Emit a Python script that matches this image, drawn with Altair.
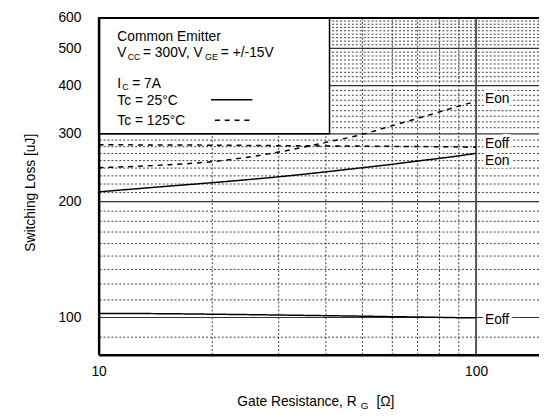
import altair as alt
import pandas as pd

FONT = "Liberation Sans, Arial, Helvetica, sans-serif"

# ---- data ----
R_G = [10, 15, 20, 30, 40, 50, 60, 70, 80, 90, 100]
eon_25 = [212, 219, 224, 232, 239, 245, 250, 255, 259, 263, 267]
eoff_25 = [102.5, 102.3, 102.0, 101.5, 101.1, 100.8, 100.5, 100.3, 100.1, 99.9, 99.8]
eon_125 = [245, 249, 254, 269, 285, 299, 315, 329, 342, 354, 364]
eoff_125 = [281, 280.6, 280.3, 279.5, 279.0, 278.7, 278.3, 278.0, 277.7, 277.4, 277.0]

series_names = ["Eon 25", "Eoff 25", "Eon 125", "Eoff 125"]
series_temps = ["25", "25", "125", "125"]

curve_labels = ["Eon", "Eoff", "Eon", "Eoff"]
curve_label_y = [370, 283, 255, 98.4]

x_ticks = [10, 100]
y_ticks = [100, 200, 300, 400, 500, 600]
x_grid_minor = [20, 30, 40, 50, 60, 70, 80, 90]
x_grid_major = [100]
y_grid_major = [100, 200, 300, 400, 500]
y_grid_minor = [88.9] + [round(b + k * 100 / 9, 1) for b in (100, 200, 300, 400, 500) for k in range(1, 9)]

X_DOMAIN = [10, 146.8]
Y_DOMAIN = [80, 600]
LEGEND_BOX_X2 = 40.9
LEGEND_BOX_Y2 = 300

rows = []
for name, t, vals in zip(series_names, series_temps, [eon_25, eoff_25, eon_125, eoff_125]):
    for r, v in zip(R_G, vals):
        rows.append({"R": r, "E": v, "series": name, "temp": t})
curves = pd.DataFrame(rows)
labels_df = pd.DataFrame({"R": [100] * 4, "E": curve_label_y, "label": curve_labels})
one = pd.DataFrame({"a": [0]})

xs = alt.Scale(type="log", domain=X_DOMAIN, nice=False)
ys = alt.Scale(type="log", domain=Y_DOMAIN, nice=False)

x_axis = alt.Axis(values=x_ticks, format="d", grid=False, ticks=False, tickSize=0,
                  labelFlush=False, labelOverlap=False, labelPadding=10,
                  labelFontSize=14, labelColor="black", labelFont=FONT,
                  domainColor="black", domainWidth=2.5, zindex=1)
y_axis = alt.Axis(values=y_ticks, format="d", grid=False, ticks=False, tickSize=0,
                  labelPadding=18, labelFontSize=14, labelColor="black", labelFont=FONT,
                  domainColor="black", domainWidth=2.5, zindex=1,
                  titleFontSize=14, titleFontWeight="normal", titleColor="black", titleFont=FONT,
                  titleX=-69, titleY=177, titleAngle=-90, titleBaseline="middle", titleAlign="center")
Y_TITLE = "Switching Loss [uJ]"


def X(field):
    return alt.X(field, scale=xs, axis=x_axis, title=None)


def Y(field):
    return alt.Y(field, scale=ys, axis=y_axis, title=Y_TITLE)


grid_y_minor = alt.Chart(pd.DataFrame({"E": y_grid_minor})).mark_rule(
    color="#3a3a3a", strokeWidth=1, strokeDash=[2, 2]).encode(y=Y("E:Q"))
grid_x_minor = alt.Chart(pd.DataFrame({"R": x_grid_minor})).mark_rule(
    color="#3a3a3a", strokeWidth=1, strokeDash=[2, 2]).encode(x=X("R:Q"))
grid_y_major = alt.Chart(pd.DataFrame({"E": y_grid_major})).mark_rule(
    color="#333", strokeWidth=1.2).encode(y=Y("E:Q"))
grid_x_major = alt.Chart(pd.DataFrame({"R": x_grid_major})).mark_rule(
    color="#555", strokeWidth=2).encode(x=X("R:Q"))

legend_box = alt.Chart(one).mark_rect(fill="white", stroke="black", strokeWidth=1.5).encode(
    x=alt.datum(10), x2=alt.datum(LEGEND_BOX_X2), y=alt.datum(600), y2=alt.datum(LEGEND_BOX_Y2))

top_border = alt.Chart(one).mark_rule(color="black", strokeWidth=2).encode(y=alt.datum(600))


def legend_text(s, dx, dy, size=14):
    return alt.Chart(one).mark_text(text=s, align="left", baseline="alphabetic", dx=dx, dy=dy,
                                    fontSize=size, font=FONT, color="black").encode(
        x=alt.datum(10), y=alt.datum(600))


legend_texts = [
    legend_text("Common Emitter", 19, 23),
    legend_text("V", 19, 40),
    legend_text("CC", 29.5, 43, 9),
    legend_text("= 300V, V", 45, 40),
    legend_text("GE", 108, 43, 9),
    legend_text("= +/-15V", 124, 40),
    legend_text("I", 19, 71),
    legend_text("C", 24, 73, 9),
    legend_text("= 7A", 34, 71),
    legend_text("Tc = 25°C", 19, 88),
    legend_text("Tc = 125°C", 19, 109),
]

sample_solid = alt.Chart(one).mark_rule(color="black", strokeWidth=1.5, xOffset=114, x2Offset=156,
                                        yOffset=83).encode(
    x=alt.datum(10), x2=alt.datum(10), y=alt.datum(600))
sample_dash = alt.Chart(one).mark_rule(color="black", strokeWidth=1.5, strokeDash=[5, 5],
                                       xOffset=118, x2Offset=155, yOffset=104).encode(
    x=alt.datum(10), x2=alt.datum(10), y=alt.datum(600))

lines = alt.Chart(curves).mark_line(color="black", strokeWidth=1.5, interpolate="monotone").encode(
    x=X("R:Q"),
    y=Y("E:Q"),
    detail="series:N",
    strokeDash=alt.StrokeDash("temp:N", scale=alt.Scale(domain=["25", "125"], range=[[1, 0], [5, 5]]),
                              legend=None),
)

label_halo = alt.Chart(labels_df).mark_text(align="left", baseline="middle", dx=9, fontSize=14, font=FONT,
                                            fill="white", stroke="white", strokeWidth=6,
                                            strokeJoin="round").encode(
    x=X("R:Q"), y=Y("E:Q"), text="label:N")
label_text = alt.Chart(labels_df).mark_text(align="left", baseline="middle", dx=9, fontSize=14, font=FONT,
                                            color="black").encode(
    x=X("R:Q"), y=Y("E:Q"), text="label:N")


def xtitle_text(s, dx, dy, align, size=14):
    return alt.Chart(one).mark_text(text=s, align=align, baseline="alphabetic", dx=dx, dy=dy,
                                    fontSize=size, font=FONT, color="black").encode(
        x=alt.datum(10), y=alt.datum(80))


x_title = [
    xtitle_text("Gate Resistance, R", 262, 52, "right"),
    xtitle_text("G", 266, 55, "left", 10),
    xtitle_text("[Ω]", 282, 52, "left"),
]

chart = alt.layer(
    grid_y_minor, grid_x_minor, grid_y_major, grid_x_major,
    lines,
    legend_box, top_border,
    *legend_texts, sample_solid, sample_dash,
    label_halo, label_text,
    *x_title,
).properties(
    width=447, height=342,
    autosize=alt.AutoSizeParams(type="none"),
    padding={"left": 92, "top": 7, "right": 0, "bottom": 56},
    background="white",
).configure_view(stroke=None)

chart.save("out.html", embed_options={"renderer": "svg", "actions": False})
